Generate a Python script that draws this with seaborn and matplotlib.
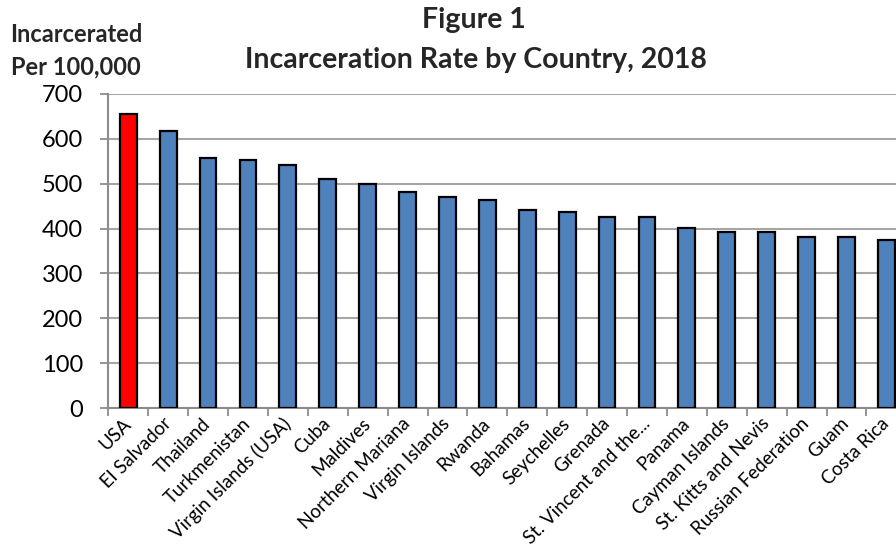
import matplotlib
matplotlib.use("Agg")
import matplotlib.pyplot as plt
import seaborn as sns
import pandas as pd
from matplotlib.ticker import FixedLocator

countries = ["USA", "El Salvador", "Thailand", "Turkmenistan", "Virgin Islands (USA)",
             "Cuba", "Maldives", "Northern Mariana", "Virgin Islands", "Rwanda",
             "Bahamas", "Seychelles", "Grenada", "St. Vincent and the...", "Panama",
             "Cayman Islands", "St. Kitts and Nevis", "Russian Federation", "Guam", "Costa Rica"]
rates = [655, 618, 556, 552, 542, 510, 499, 482, 470, 464,
         442, 437, 426, 426, 402, 393, 393, 381, 381, 374]
highlight = ["USA"]

y_ticks = [0, 100, 200, 300, 400, 500, 600, 700]

sns.set_theme(style="white")
plt.rcParams["font.family"] = ["Lato", "DejaVu Sans"]

df = pd.DataFrame({"country": countries, "rate": rates})
df["group"] = ["US" if c in highlight else "Other" for c in countries]

fig = plt.figure(figsize=(8.96, 5.54), dpi=100)
ax = fig.add_axes([108.3 / 896, 1 - 408.3 / 554, 798 / 896, (408.3 - 93.7) / 554])

sns.barplot(data=df, x="country", y="rate", hue="group",
            palette={"US": "#FF0000", "Other": "#4F81BD"}, saturation=1,
            dodge=False, width=0.42, edgecolor="black", linewidth=1.6,
            legend=False, ax=ax, zorder=3)

ax.set_xlim(-0.5, len(countries) - 0.5)
ax.set_ylim(0, 700)
ax.set_yticks(y_ticks)
ax.set_yticklabels([str(v) for v in y_ticks], fontsize=17, color="black")
ax.yaxis.grid(True, color="#A6A6A6", linewidth=1.5, zorder=0)
ax.set_axisbelow(True)

ax.set_xticks(range(len(countries)))
ax.set_xticklabels(countries, rotation=45, ha="right", va="center",
                   rotation_mode="anchor", fontsize=13.5, color="black")
ax.xaxis.set_minor_locator(FixedLocator([i - 0.5 for i in range(len(countries) + 1)]))
ax.tick_params(axis="x", which="major", length=0, pad=9)
ax.tick_params(axis="x", which="minor", length=6, width=1.3, color="#8C8C8C", bottom=True)
ax.tick_params(axis="y", which="major", length=6, width=1.3, color="#8C8C8C", left=True, pad=12)

for side in ["top", "right"]:
    ax.spines[side].set_visible(False)
for side in ["left", "bottom"]:
    ax.spines[side].set_color("#8C8C8C")
    ax.spines[side].set_linewidth(1.5)

ax.set_xlabel("")
ax.set_ylabel("")

fig.text(474 / 896, 1 - 20 / 554, "Figure 1", ha="center", va="center",
         fontsize=20.5, fontweight="bold")
fig.text(476 / 896, 1 - 60 / 554, "Incarceration Rate by Country, 2018", ha="center",
         va="center", fontsize=20.5, fontweight="bold")
fig.text(76 / 896, 1 - 35 / 554, "Incarcerated", ha="center", va="center",
         fontsize=17, fontweight="bold")
fig.text(76 / 896, 1 - 67 / 554, "Per 100,000", ha="center", va="center",
         fontsize=17, fontweight="bold")

fig.savefig("out.png", dpi=100)
